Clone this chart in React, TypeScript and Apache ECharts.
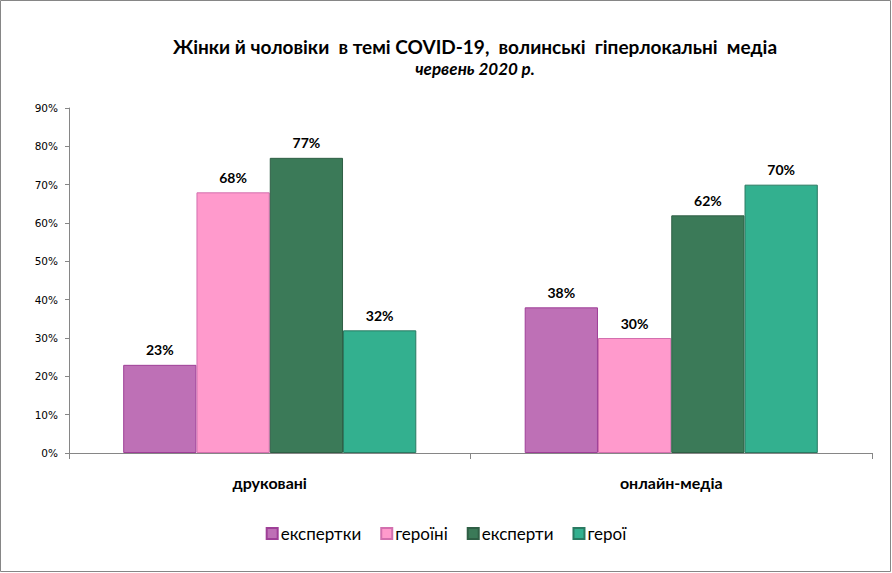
import React, { useEffect, useRef } from "react";
import * as echarts from "echarts";

const categories = ["друковані", "онлайн-медіа"];
const seriesNames = ["експертки", "героїні", "експерти", "герої"];
const expertky = [23, 38];
const heroini = [68, 30];
const eksperty = [77, 62];
const heroi = [32, 70];
const yTicks = [0, 10, 20, 30, 40, 50, 60, 70, 80, 90];

const fills = ["#BE70B6", "#FF9ACC", "#3B7A58", "#33B08F"];
const borders = ["#9E3F97", "#D36FAE", "#2F5F45", "#2A7A62"];

export default function App() {
  const ref = useRef<HTMLDivElement>(null);
  useEffect(() => {
    document.body.style.margin = "0";
    const chart = echarts.init(ref.current!, null, { renderer: "svg" });
    const data = [expertky, heroini, eksperty, heroi];
    chart.setOption({
      animation: false,
      backgroundColor: "#ffffff",
      title: {
        text: "Жінки й чоловіки  в темі COVID-19,  волинські  гіперлокальні  медіа",
        subtext: "червень 2020 р.",
        left: 470,
        textAlign: "center",
        top: 32,
        itemGap: 4,
        textStyle: { fontFamily: "Lato", fontWeight: "bold", fontSize: 19, color: "#000" },
        subtextStyle: { fontFamily: "Lato", fontWeight: "bold", fontStyle: "italic", fontSize: 17, color: "#000" },
      },
      legend: {
        bottom: 26,
        left: "center",
        itemWidth: 11,
        itemHeight: 11,
        itemGap: 19,
        icon: "rect",
        textStyle: { fontFamily: "Lato", fontSize: 17, color: "#000", padding: [0, 0, 0, -2] },
        data: seriesNames,
      },
      grid: { left: 69, right: 20, top: 108, bottom: 120 },
      xAxis: {
        type: "category",
        data: categories,
        axisLine: { lineStyle: { color: "#868686" } },
        axisTick: { show: true, length: 6, lineStyle: { color: "#868686" } },
        axisLabel: { fontFamily: "Lato", fontWeight: "bold", fontSize: 16, color: "#000", margin: 21 },
      },
      yAxis: {
        type: "value",
        min: yTicks[0],
        max: yTicks[yTicks.length - 1],
        interval: 10,
        splitLine: { show: false },
        axisLine: { show: true, lineStyle: { color: "#868686" } },
        axisTick: { show: true, length: 4, lineStyle: { color: "#868686" } },
        axisLabel: { fontFamily: "DejaVu Sans", fontSize: 10.5, color: "#000", margin: 11, formatter: "{value}%" },
      },
      series: seriesNames.map((name, i) => ({
        name,
        type: "bar",
        data: data[i],
        barGap: "0%",
        barCategoryGap: "27%",
        itemStyle: { color: fills[i], borderColor: borders[i], borderWidth: 1 },
        label: {
          show: true,
          position: "top",
          distance: 8,
          formatter: "{c}%",
          fontFamily: "Lato",
          fontWeight: "bold",
          fontSize: 14,
          color: "#000",
        },
      })),
      graphic: [
        {
          type: "rect",
          shape: { x: 0.5, y: 0.5, width: 890, height: 571 },
          style: { fill: "none", stroke: "#868686", lineWidth: 1 },
          silent: true,
        },
      ],
    });
    return () => chart.dispose();
  }, []);
  return <div ref={ref} style={{ width: 892, height: 573 }} />;
}
